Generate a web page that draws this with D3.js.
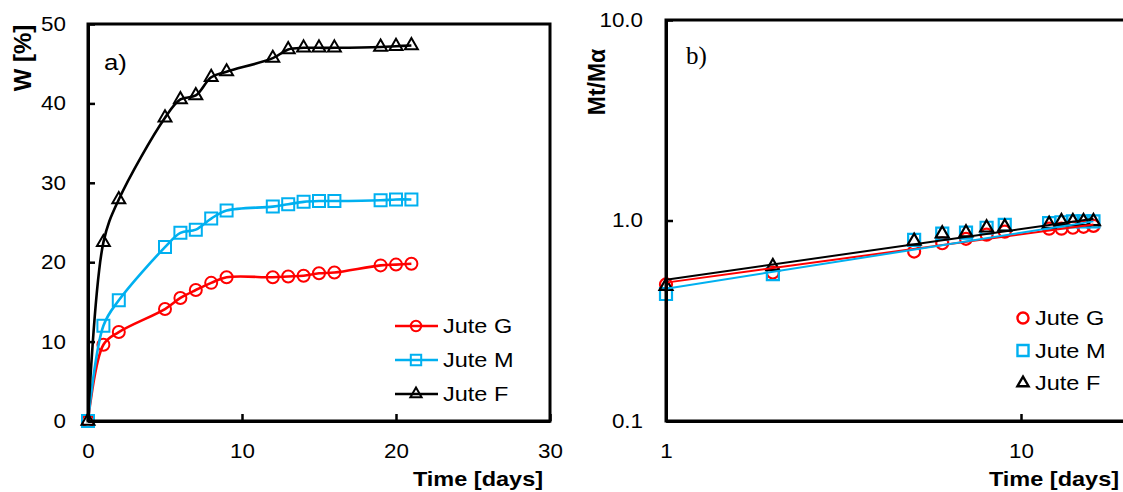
<!DOCTYPE html>
<html><head><meta charset="utf-8">
<script src="https://cdn.jsdelivr.net/npm/d3@7"></script>
<style>
body{margin:0;background:#fff}
svg text{font-family:"Liberation Sans",Arial,sans-serif;fill:#000}
.sx{transform-box:fill-box;transform-origin:center;transform:scaleX(1.12)}
.sxe{transform-box:fill-box;transform-origin:right center;transform:scaleX(1.12)}
.sxs{transform-box:fill-box;transform-origin:left center;transform:scaleX(1.12)}
</style></head>
<body><svg id="c" width="1123" height="492"></svg>
<script>
// ---- data ----
const seriesNames = ["Jute G","Jute M","Jute F"];
const seriesColors = ["#ff0000","#00b0f0","#000000"];
const days = [0,1,2,5,6,7,8,9,12,13,14,15,16,19,20,21];
const wJuteG = [0,9.6,11.2,14.1,15.5,16.5,17.4,18.1,18.1,18.2,18.3,18.6,18.7,19.6,19.7,19.8];
const wJuteM = [0,12.0,15.2,21.9,23.7,24.1,25.5,26.5,27.0,27.3,27.6,27.7,27.7,27.8,27.9,27.9];
const wJuteF = [0,22.5,27.9,38.2,40.5,41.0,43.3,44.0,45.7,46.8,47.0,47.0,47.0,47.1,47.2,47.3];
const daysB = [1,2,5,6,7,8,9,12,13,14,15,16];
const mJuteG = [0.48,0.55,0.70,0.77,0.81,0.85,0.88,0.91,0.91,0.92,0.93,0.94];
const mJuteM = [0.43,0.54,0.80,0.86,0.87,0.92,0.95,0.97,0.98,0.99,0.99,0.99];
const mJuteF = [0.47,0.59,0.79,0.86,0.87,0.92,0.93,0.96,0.99,0.99,0.99,0.99];
const trendDays = [1,16];
const trendG = [0.49,0.955];
const trendM = [0.457,0.99];
const trendF = [0.507,1.02];
const ticksAX = [0,10,20,30];
const ticksAY = [0,10,20,30,40,50];
const ticksBX = [1,10];
const ticksBY = [0.1,1,10];

const svg = d3.select("#c");
const markers = [d3.symbolCircle, d3.symbolSquare, d3.symbolTriangle];
const markerSize = [113, 144, 72];

// ---- panel a ----
const xA = d3.scaleLinear().domain([0,30]).range([88,550]);
const yA = d3.scaleLinear().domain([0,50]).range([421,24]);
const gA = svg.append("g");
const lineA = d3.line().x(d=>xA(d[0])).y(d=>yA(d[1])).curve(d3.curveCatmullRom.alpha(0.5));
[wJuteG,wJuteM,wJuteF].forEach((vals,i)=>{
  const pts = days.map((t,j)=>[t,vals[j]]);
  gA.append("path").attr("d",lineA(pts)).attr("fill","none")
    .attr("stroke",seriesColors[i]).attr("stroke-width",2.6);
  gA.selectAll(null).data(pts).enter().append("path")
    .attr("d",d3.symbol(markers[i],markerSize[i])())
    .attr("transform",d=>`translate(${xA(d[0])},${yA(d[1])})`)
    .attr("fill","none").attr("stroke",seriesColors[i]).attr("stroke-width",2);
});
// frame
gA.append("rect").attr("x",88).attr("y",24).attr("width",462).attr("height",397)
  .attr("fill","none").attr("stroke","#000").attr("stroke-width",3);
const axA_x = gA.append("g").attr("transform","translate(0,421)")
  .call(d3.axisBottom(xA).tickValues(ticksAX).tickSizeInner(-7).tickSizeOuter(0).tickPadding(23));
const axA_y = gA.append("g").attr("transform","translate(88,0)")
  .call(d3.axisLeft(yA).tickValues(ticksAY).tickSizeInner(-7).tickSizeOuter(0).tickPadding(22));
[axA_x,axA_y].forEach(a=>{a.select(".domain").attr("stroke-width",3);a.selectAll("line").attr("stroke-width",2.5);
  a.selectAll("text").attr("font-size",20).attr("font-family",null);});
axA_x.selectAll("text").attr("class","sx");
axA_y.selectAll("text").attr("class","sxe");
gA.append("text").attr("x",104).attr("y",70).attr("font-size",23).attr("class","sxs").text("a)");
gA.append("text").attr("transform","translate(31,58) rotate(-90)").attr("text-anchor","middle")
  .attr("font-size",24).attr("font-weight","bold").text("W [%]");
gA.append("text").attr("x",478).attr("y",486).attr("text-anchor","middle").attr("class","sx")
  .attr("font-size",21).attr("font-weight","bold").text("Time [days]");
// legend a
seriesNames.forEach((n,i)=>{
  const y = 326 + i*34;
  gA.append("line").attr("x1",395).attr("x2",438).attr("y1",y).attr("y2",y)
    .attr("stroke",seriesColors[i]).attr("stroke-width",2.6);
  gA.append("path").attr("d",d3.symbol(markers[i],markerSize[i]*0.75)())
    .attr("transform",`translate(416,${y})`).attr("fill","none").attr("stroke",seriesColors[i]).attr("stroke-width",2);
  gA.append("text").attr("x",443).attr("y",y).attr("dy","0.35em").attr("font-size",21).attr("class","sxs").text(n);
});

// ---- panel b ----
const xB = d3.scaleLog().domain([1,100]).range([666,1376]);
const yB = d3.scaleLog().domain([0.1,10]).range([421,20]);
const gB = svg.append("g");
[mJuteG,mJuteM,mJuteF].forEach((vals,i)=>{
  const pts = daysB.map((t,j)=>[t,vals[j]]);
  gB.selectAll(null).data(pts).enter().append("path")
    .attr("d",d3.symbol(markers[i],markerSize[i])())
    .attr("transform",d=>`translate(${xB(d[0])},${yB(d[1])})`)
    .attr("fill","none").attr("stroke",seriesColors[i]).attr("stroke-width",2.2);
});
const lineB = d3.line().x(d=>xB(d[0])).y(d=>yB(d[1]));
[trendG,trendM,trendF].forEach((vals,i)=>{
  gB.append("path").attr("d",lineB(trendDays.map((t,j)=>[t,vals[j]]))).attr("fill","none")
    .attr("stroke",seriesColors[i]).attr("stroke-width",2);
});
gB.append("rect").attr("x",666).attr("y",20).attr("width",710).attr("height",401)
  .attr("fill","none").attr("stroke","#000").attr("stroke-width",3);
const axB_x = gB.append("g").attr("transform","translate(0,421)")
  .call(d3.axisBottom(xB).tickValues(ticksBX).tickFormat(d3.format("d")).tickSizeInner(-7).tickSizeOuter(0).tickPadding(23));
const axB_y = gB.append("g").attr("transform","translate(666,0)")
  .call(d3.axisLeft(yB).tickValues(ticksBY).tickFormat(d3.format(".1f")).tickSizeInner(-7).tickSizeOuter(0).tickPadding(23));
[axB_x,axB_y].forEach(a=>{a.select(".domain").attr("stroke-width",3);a.selectAll("line").attr("stroke-width",2.5);
  a.selectAll("text").attr("font-size",20).attr("font-family",null);});
axB_x.selectAll("text").attr("class","sx");
axB_y.selectAll("text").attr("class","sxe");
gB.append("text").attr("x",686).attr("y",64).attr("font-size",25)
  .style("font-family","'Liberation Serif','Times New Roman',serif").text("b)");
gB.append("text").attr("transform","translate(605,82) rotate(-90)").attr("text-anchor","middle")
  .attr("font-size",23).attr("font-weight","bold").text("Mt/Mα");
gB.append("text").attr("x",1054).attr("y",486).attr("text-anchor","middle").attr("class","sx")
  .attr("font-size",21).attr("font-weight","bold").text("Time [days]");
seriesNames.forEach((n,i)=>{
  const y = 318 + i*32.5;
  gB.append("path").attr("d",d3.symbol(markers[i],markerSize[i]*(i===2?0.75:0.85))())
    .attr("transform",`translate(1023,${y})`).attr("fill","none").attr("stroke",seriesColors[i]).attr("stroke-width",2.4);
  gB.append("text").attr("x",1035).attr("y",y).attr("dy","0.35em").attr("font-size",21).attr("class","sxs").text(n);
});
</script></body></html>
